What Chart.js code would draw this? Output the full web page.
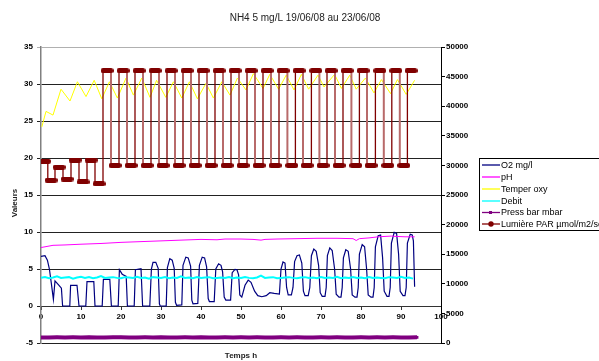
<!DOCTYPE html>
<html lang="fr">
<head>
<meta charset="UTF-8">
<title>NH4 5 mg/L 19/06/08 au 23/06/08</title>
<script src="https://cdn.jsdelivr.net/npm/chart.js@4.4.1/dist/chart.umd.min.js"></script>
<style>
    body { margin: 0; background: #fff; }
    canvas { display: block; }
</style>
</head>
<body>
<canvas id="chart" width="599" height="361"></canvas>
<script>
// values (x = Temps h)
var o2X = [0, 1.0, 1.6, 2.1, 2.6, 3.1, 3.5, 4.5, 5.1, 5.4,
    7.2, 7.4, 9.0, 9.5, 11.2, 11.5, 13.2, 13.5, 15.3, 15.6, 17.2, 17.6,
    19.3, 19.6, 20.3, 21.3, 21.6, 23.3, 23.6, 25.0, 25.4,
    27.2, 27.6, 28.0, 28.7, 29.3, 29.6, 29.8,
    31.3, 31.6, 32.2, 32.8, 33.3, 33.6, 33.9,
    35.2, 35.5, 36.2, 36.8, 37.4, 37.7, 38.0,
    39.2, 39.6, 40.3, 40.9, 41.4, 41.8, 42.1,
    43.3, 43.7, 44.4, 45.0, 45.4, 45.8, 46.2,
    47.4, 47.8, 48.5, 49.0, 49.4, 49.7, 50.2,
    51.0, 51.8, 52.5, 53.4, 54.2, 55.2, 56.3, 57.2, 58.3, 59.6,
    60.0, 60.5, 61.0, 61.4, 61.8, 62.6,
    63.0, 63.4, 64.0, 64.6, 65.2, 65.6, 66.0, 66.8,
    67.2, 67.6, 68.2, 68.8, 69.4, 69.8, 70.3, 71.0,
    71.3, 71.6, 72.2, 72.8, 73.4, 73.8, 74.5, 75.0,
    75.3, 75.6, 76.2, 76.8, 77.4, 77.8, 78.5, 79.0,
    79.3, 79.6, 80.3, 80.9, 81.4, 81.8, 82.5, 83.0,
    83.3, 83.6, 84.3, 84.9, 85.4, 85.8, 86.5, 87.0,
    87.3, 87.6, 88.3, 88.9, 89.4, 89.8, 90.5, 91.0,
    91.3, 91.6, 92.3, 92.8, 93.1, 93.4];
var o2Y = [6.7, 6.8, 6.2, 5.0, 3.0, 0.9, 3.4, 2.8, 2.4, 0,
    0, 2.8, 2.8, 0, 0, 3.3, 3.3, 0, 0, 3.6, 3.6, 0,
    0, 4.9, 4.3, 4.0, 0, 0, 4.9, 5.05, 0,
    0, 5.0, 5.9, 5.9, 5.1, 0.3, 0,
    0, 5.2, 6.4, 6.2, 5.1, 0.5, 0.1,
    0.15, 5.5, 6.6, 6.5, 5.4, 0.8, 0.3,
    0.35, 5.5, 6.6, 6.5, 5.3, 1.0, 0.6,
    0.6, 5.0, 5.7, 5.5, 4.6, 1.2, 0.8,
    0.8, 4.5, 4.95, 4.9, 4.2, 1.5, 1.2,
    2.8, 3.5, 3.2, 2.0, 1.4, 1.25, 1.4, 1.8, 1.7, 1.6,
    5.0, 5.95, 5.8, 2.5, 1.5, 1.5,
    2.5, 6.0, 6.8, 6.9, 5.8, 2.0, 1.4, 1.4,
    2.5, 6.8, 7.7, 7.4, 5.5, 1.8, 1.3, 1.3,
    2.5, 6.8, 7.85, 7.5, 5.0, 1.6, 1.2, 1.2,
    2.5, 6.5, 7.6, 7.4, 5.0, 1.5, 1.2, 1.2,
    2.5, 7.0, 8.3, 8.0, 5.0, 1.5, 1.2, 1.2,
    2.5, 8.0, 9.5, 9.6, 6.5, 2.0, 1.3, 1.3,
    2.5, 8.5, 9.95, 9.8, 7.0, 2.0, 1.4, 1.4,
    2.5, 8.5, 9.7, 9.6, 8.8, 2.6];

var phX = [0, 1, 3, 6, 10, 15, 20, 25, 30, 35, 40, 44, 46, 50, 53, 55, 56, 59, 64, 69, 74, 78, 78.8, 79.6, 82, 84.3, 87.6, 89, 91, 93.4];
var phY = [7.9, 8.0, 8.2, 8.25, 8.35, 8.45, 8.6, 8.7, 8.8, 8.9, 9.0, 8.95, 9.05, 9.05, 9.0, 8.9, 9.0, 9.05, 9.1, 9.15, 9.15, 9.1, 8.85, 9.1, 9.2, 9.35, 9.45, 9.4, 9.35, 9.35];

var tempX = [0.2, 1.25, 3.0, 5.0, 7.25, 9.1, 11.25, 13.3, 15.2, 17.1, 19.1, 21.25, 23.1, 25.2, 27.25, 28.9,
    31.2, 33.1, 35.2, 37.1, 39.1, 41.25, 43.1, 45.2, 47.25, 49.1, 51.25, 53.1, 55.5, 57.2, 59.4, 61.3,
    63.25, 65.1, 66.9, 69.25, 70.75, 73.4, 75.1, 77.2, 78.8, 81.1, 83.25, 85.1, 87.4, 89.1, 91.3, 93.4];
var tempY = [24.2, 26.3, 25.8, 29.3, 27.7, 30.3, 28.3, 30.5, 28.0, 30.3, 28.1, 30.8, 28.5, 30.8, 28.2, 30.5,
    28.2, 30.3, 28.1, 30.3, 28.0, 30.1, 28.1, 30.3, 28.5, 30.8, 29.2, 31.4, 29.4, 31.3, 29.3, 31.2,
    29.2, 31.3, 29.3, 31.2, 29.6, 31.3, 29.4, 31.2, 29.3, 30.8, 28.8, 30.6, 28.7, 30.6, 28.6, 30.5];

// one reading per hour
var debitY = [3.8, 3.9, 3.75, 3.85, 4.0, 3.8, 3.85, 3.9, 3.7, 3.85,
    3.95, 3.8, 3.9, 3.75, 3.85, 4.05, 3.8, 3.85, 3.9, 3.8,
    3.75, 3.9, 3.85, 3.8, 3.95, 3.8, 3.85, 3.7, 3.9, 3.85,
    3.8, 3.9, 3.75, 3.85, 3.8, 4.0, 3.8, 3.85, 3.75, 3.9,
    3.8, 3.85, 3.9, 3.75, 3.8, 3.85, 3.8, 3.9, 3.75, 3.85,
    3.8, 3.9, 3.8, 3.75, 3.85, 4.1, 3.8, 3.85, 3.9, 3.75,
    3.8, 3.85, 3.9, 3.8, 3.75, 3.85, 3.9, 3.8, 3.85, 3.75,
    3.9, 3.8, 3.85, 3.8, 3.95, 3.75, 3.85, 3.8, 3.9, 3.8,
    3.85, 3.75, 3.9, 3.8, 3.85, 3.8, 3.75, 3.9, 3.85, 3.8,
    3.95, 3.8, 3.85, 3.7];

// one reading every 2 h (secondary axis)
var pressY = [940, 950, 960, 945, 955, 950, 965, 940, 950, 955, 960, 945, 950, 955, 940, 960,
    950, 945, 955, 950, 960, 940, 950, 955, 945, 960, 950, 955, 940, 950, 960, 945,
    955, 950, 945, 960, 950, 955, 940, 950, 960, 945, 955, 950, 960, 945, 950, 955];

// centre of each light level (secondary axis)
var lumX = [0.9, 2.5, 4.5, 6.5, 8.5, 10.5, 12.5, 14.5,
    16.5, 18.5, 20.5, 22.5, 24.5, 26.5, 28.5, 30.5, 32.5, 34.5, 36.5, 38.5, 40.5, 42.5, 44.5, 46.5,
    48.5, 50.5, 52.5, 54.5, 56.5, 58.5, 60.5, 62.7, 64.5, 66.5, 68.7, 70.5, 72.5, 74.5, 76.5, 78.7,
    80.5, 82.5, 84.7, 86.7, 88.7, 90.7, 92.5];
var lumY = [30700, 27500, 29700, 27700, 30900, 27200, 30900, 26900,
    46000, 30000, 46000, 30000, 46000, 30000, 46000, 30000, 46000, 30000, 46000, 30000, 46000, 30000, 46000, 30000,
    46000, 30000, 46000, 30000, 46000, 30000, 46000, 30000, 46000, 30000, 46000, 30000, 46000, 30000, 46000, 30000,
    46000, 30000, 46000, 30000, 46000, 30000, 46000];

var yTicks = [-5, 0, 5, 10, 15, 20, 25, 30, 35];
var y2Ticks = [0, 5000, 10000, 15000, 20000, 25000, 30000, 35000, 40000, 45000, 50000];

var seriesNames = ['O2 mg/l', 'pH', 'Temper oxy', 'Debit', 'Press bar mbar', 'Lumière PAR µmol/m2/sec'];
var seriesColors = ['#000080', '#ff00ff', '#ffff00', '#00ffff', '#800080', '#800000'];

function pts(xs, ys) {
    return ys.map(function (v, i) { return { x: xs[i], y: v }; });
}

// elongated marker like the one on the light series
function pill(w, h, color) {
    var c = document.createElement('canvas');
    c.width = w; c.height = h;
    var g = c.getContext('2d');
    var r = h / 2;
    g.fillStyle = color;
    g.beginPath();
    g.moveTo(r, 0);
    g.lineTo(w - r, 0);
    g.arc(w - r, r, r, -Math.PI / 2, Math.PI / 2);
    g.lineTo(r, h);
    g.arc(r, r, r, Math.PI / 2, Math.PI * 1.5);
    g.closePath();
    g.fill();
    return c;
}

var extras = {
    id: 'extras',
    afterDraw: function (chart) {
        var c = chart.ctx;
        c.save();
        c.fillStyle = '#222';
        c.textAlign = 'center';
        c.textBaseline = 'middle';
        c.font = '10px "Liberation Sans"';
        c.fillText('NH4 5 mg/L 19/06/08 au 23/06/08', 305, 18);

        c.font = 'bold 8px "Liberation Sans"';
        c.fillText('Temps h', 241, 356);
        c.save();
        c.translate(15, 203);
        c.rotate(-Math.PI / 2);
        c.fillText('Valeurs', 0, 0);
        c.restore();

        // legend
        c.strokeStyle = '#000';
        c.lineWidth = 1;
        c.strokeRect(479.5, 158.5, 140, 72);
        c.textAlign = 'left';
        c.font = '9px "Liberation Sans"';
        var ys = [165, 177, 189, 201, 212.5, 224];
        for (var i = 0; i < seriesNames.length; i++) {
            c.strokeStyle = seriesColors[i];
            c.lineWidth = 1.3;
            c.beginPath();
            c.moveTo(482, ys[i]);
            c.lineTo(500, ys[i]);
            c.stroke();
            if (i === 4) {
                c.fillStyle = seriesColors[i];
                c.fillRect(489, ys[i] - 1.5, 3, 3);
            }
            if (i === 5) {
                c.fillStyle = seriesColors[i];
                c.beginPath();
                c.arc(491, ys[i], 2.7, 0, Math.PI * 2);
                c.fill();
            }
            c.fillStyle = '#000';
            c.fillText(seriesNames[i], 501, ys[i] + 0.5);
        }
        c.restore();
    }
};

var tickFont = { family: 'Liberation Sans', size: 8, weight: 'bold' };

new Chart(document.getElementById('chart'), {
    type: 'line',
    data: {
        datasets: [
            {
                label: seriesNames[5], data: pts(lumX, lumY), yAxisID: 'y2', order: 0,
                borderColor: seriesColors[5], borderWidth: 1.3, stepped: 'middle',
                pointStyle: pill(13, 5, seriesColors[5]), pointRadius: 3,
                segment: {
                    // falling edges look lighter in the original picture
                    borderColor: function (ctx) {
                        return ctx.p0.parsed.x > 15 && ctx.p0.parsed.y > ctx.p1.parsed.y ? '#b86a6a' : undefined;
                    },
                    borderWidth: function (ctx) {
                        return ctx.p0.parsed.x > 15 && ctx.p0.parsed.y > ctx.p1.parsed.y ? 2 : undefined;
                    }
                }
            },
            {
                label: seriesNames[4], data: pts(pressY.map(function (v, i) { return i * 2; }), pressY), yAxisID: 'y2', order: 1,
                borderColor: seriesColors[4], borderWidth: 4, pointStyle: 'rect', pointRadius: 2,
                pointBackgroundColor: seriesColors[4], pointBorderWidth: 0
            },
            {
                label: seriesNames[3], data: pts(debitY.map(function (v, i) { return i; }), debitY), yAxisID: 'y', order: 2,
                borderColor: seriesColors[3], borderWidth: 2, pointRadius: 0
            },
            {
                label: seriesNames[2], data: pts(tempX, tempY), yAxisID: 'y', order: 3,
                borderColor: seriesColors[2], borderWidth: 1, pointRadius: 0
            },
            {
                label: seriesNames[1], data: pts(phX, phY), yAxisID: 'y', order: 4,
                borderColor: seriesColors[1], borderWidth: 1, pointRadius: 0
            },
            {
                label: seriesNames[0], data: pts(o2X, o2Y), yAxisID: 'y', order: 5,
                borderColor: seriesColors[0], borderWidth: 1.2, pointRadius: 0
            }
        ]
    },
    options: {
        responsive: false,
        animation: false,
        events: [],
        layout: { padding: { top: 47, bottom: 18, left: 0, right: 0 } },
        plugins: { legend: { display: false }, title: { display: false }, tooltip: { enabled: false } },
        scales: {
            x: {
                type: 'linear', min: 0, max: 100, position: { y: 0 },
                ticks: { stepSize: 10, font: tickFont, color: '#000', padding: 3, maxRotation: 0 },
                grid: { drawOnChartArea: false, tickLength: 3, color: '#333' },
                border: { color: '#333', width: 1 }
            },
            y: {
                position: 'left', min: -5, max: 35,
                afterBuildTicks: function (s) { s.ticks = yTicks.map(function (v) { return { value: v }; }); },
                afterFit: function (s) { s.width = 41; },
                ticks: { font: tickFont, color: '#000', padding: 4 },
                grid: {
                    tickLength: 4,
                    color: function (ctx) { return ctx.tick && ctx.tick.value === 35 ? '#b0b0b0' : '#222'; }
                },
                border: { color: '#808080', width: 1.5 }
            },
            y2: {
                position: 'right', min: 0, max: 50000,
                afterBuildTicks: function (s) { s.ticks = y2Ticks.map(function (v) { return { value: v }; }); },
                afterFit: function (s) { s.width = 158; },
                ticks: { font: tickFont, color: '#000', padding: 1, callback: function (v) { return String(v); } },
                grid: { drawOnChartArea: false, tickLength: 4, color: '#000' },
                border: { color: '#000', width: 1 }
            }
        }
    },
    plugins: [extras]
});
</script>
</body>
</html>
